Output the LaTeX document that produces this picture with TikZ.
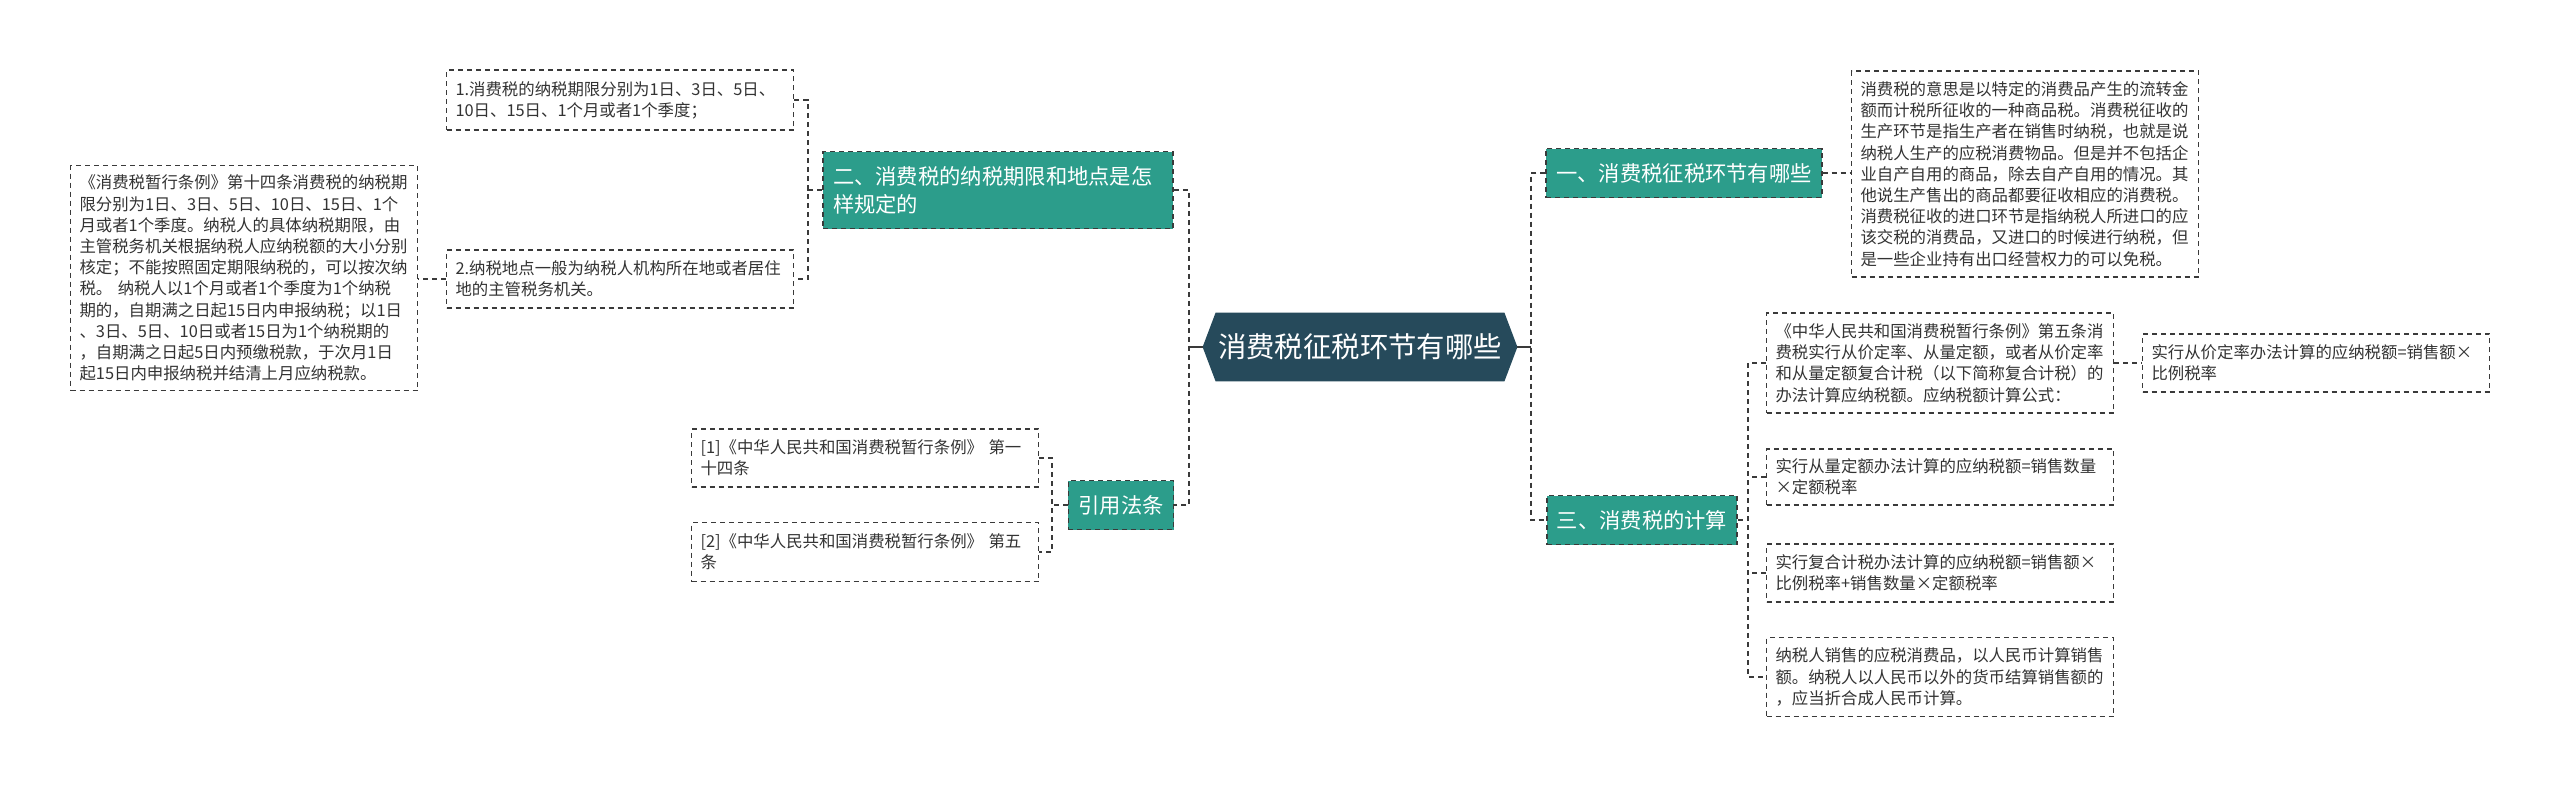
\documentclass[tikz,border=0pt]{standalone}
\usepackage{fontspec}
\setmainfont{Noto Sans CJK SC}
\usepackage{xcolor}
\usepackage{tikz}
\usetikzlibrary{positioning, calc}
\definecolor{slate}{HTML}{264A5B}
\definecolor{jade}{HTML}{2C9D8B}
\definecolor{inkgray}{HTML}{333333}
\definecolor{linegray}{HTML}{3A3A3A}
\pgfdeclarelayer{background}
\pgfsetlayers{background,main}

\begin{document}
\begin{tikzpicture}[
    x=0.5pt, y=-0.5pt,
    % 1. trazo discontinuo comun
    boxdash/.style={dash pattern=on 2.5pt off 2pt},
    % 2. tema central
    root/.style={
        text=white, font=\fontsize{14.2}{17}\selectfont,
        minimum width=157pt, minimum height=34pt, inner sep=0pt
    },
    % 3. ramas verdes
    branch/.style={
        boxdash, draw=linegray, line width=0.8pt, fill=jade,
        text=white, font=\fontsize{10.65}{14}\selectfont,
        inner xsep=5pt, minimum height=24.5pt, align=left
    },
    % 4. hojas con borde discontinuo
    leaf/.style={
        boxdash, draw=linegray, line width=0.75pt,
        text=inkgray, font=\fontsize{8.2}{10.6}\selectfont,
        text width=164.5pt, inner xsep=4.5pt, align=left
    },
    % 5. conectores
    link/.style={boxdash, draw=linegray, line width=1pt},
    rootlink/.style={draw=linegray, line width=1pt}
]
    \useasboundingbox (0,0) rectangle (2560,788);

    % --- CENTRO ---
    \node[root] (root) at (1360, 347) {消费税征税环节有哪些};

    % --- IZQUIERDA ---
    \node[branch, text width=165pt, minimum height=38.5pt] (n2) at (998, 190) {二、消费税的纳税期限和地点是怎\\样规定的};
    \node[branch] (ref) at (1121, 505) {引用法条};

    \node[leaf, minimum height=30pt] (n2a) at (620, 100) {1.消费税的纳税期限分别为1日、3日、5日、\\10日、15日、1个月或者1个季度；};
    \node[leaf, minimum height=29pt] (n2b) at (620, 279) {2.纳税地点一般为纳税人机构所在地或者居住\\地的主管税务机关。};
    \node[leaf, minimum height=112.5pt] (big) at (244, 278) {《消费税暂行条例》第十四条消费税的纳税期\\限分别为1日、3日、5日、10日、15日、1个\\月或者1个季度。纳税人的具体纳税期限，由\\主管税务机关根据纳税人应纳税额的大小分别\\核定；不能按照固定期限纳税的，可以按次纳\\税。 纳税人以1个月或者1个季度为1个纳税\\期的，自期满之日起15日内申报纳税；以1日\\、3日、5日、10日或者15日为1个纳税期的\\，自期满之日起5日内预缴税款，于次月1日\\起15日内申报纳税并结清上月应纳税款。};

    \node[leaf, minimum height=29pt] (ref1) at (865, 458) {[1]《中华人民共和国消费税暂行条例》 第一\\十四条};
    \node[leaf, minimum height=29.5pt] (ref2) at (865, 552) {[2]《中华人民共和国消费税暂行条例》 第五\\条};

    % --- DERECHA ---
    \node[branch] (n1) at (1684, 173) {一、消费税征税环节有哪些};
    \node[branch] (n3) at (1642, 520) {三、消费税的计算};

    \node[leaf, minimum height=103pt] (n1a) at (2025, 174) {消费税的意思是以特定的消费品产生的流转金\\额而计税所征收的一种商品税。消费税征收的\\生产环节是指生产者在销售时纳税，也就是说\\纳税人生产的应税消费物品。但是并不包括企\\业自产自用的商品，除去自产自用的情况。其\\他说生产售出的商品都要征收相应的消费税。\\消费税征收的进口环节是指纳税人所进口的应\\该交税的消费品，又进口的时候进行纳税，但\\是一些企业持有出口经营权力的可以免税。};

    \node[leaf, minimum height=50pt] (n3a) at (1940, 363) {《中华人民共和国消费税暂行条例》第五条消\\费税实行从价定率、从量定额，或者从价定率\\和从量定额复合计税（以下简称复合计税）的\\办法计算应纳税额。应纳税额计算公式：};
    \node[leaf, minimum height=29pt] (n3a1) at (2316, 363) {实行从价定率办法计算的应纳税额=销售额×\\比例税率};
    \node[leaf, minimum height=28pt] (n3b) at (1940, 477) {实行从量定额办法计算的应纳税额=销售数量\\×定额税率};
    \node[leaf, minimum height=29pt] (n3c) at (1940, 573) {实行复合计税办法计算的应纳税额=销售额×\\比例税率+销售数量×定额税率};
    \node[leaf, minimum height=39.5pt] (n3d) at (1940, 677) {纳税人销售的应税消费品，以人民币计算销售\\额。纳税人以人民币以外的货币结算销售额的\\，应当折合成人民币计算。};

    % --- FONDO ---
    \begin{pgfonlayer}{background}
        \fill[white] (0,0) rectangle (2560,788);
        \fill[slate] (root.west) -- ([xshift=6.5pt]root.north west) -- ([xshift=-6.5pt]root.north east)
            -- (root.east) -- ([xshift=-6.5pt]root.south east) -- ([xshift=6.5pt]root.south west) -- cycle;
    \end{pgfonlayer}

    % --- CONECTORES ---
    \coordinate (busL) at (1189, 347);
    \coordinate (busR) at (1531, 347);
    \coordinate (bus2) at (808, 190);
    \coordinate (busRef) at (1052, 505);
    \coordinate (bus3) at (1748, 520);

    \draw[rootlink] (root.west) -- (busL);
    \draw[link] (n2.east) -| (busL) |- (ref.east);
    \draw[rootlink] (root.east) -- (busR);
    \draw[link] (n1.west) -| (busR) |- (n3.west);

    \draw[link] (n2.west) -- (bus2);
    \draw[link] (n2a.east) -| (bus2) |- (n2b.east);
    \draw[link] (n2b.west) -- (n2b.west -| big.east);

    \draw[link] (ref.west) -- (busRef);
    \draw[link] (ref1.east) -| (busRef) |- (ref2.east);

    \draw[link] (n1.east) -- (n1.east -| n1a.west);

    \draw[link] (n3.east) -- (bus3);
    \draw[link] (n3a.west) -| (bus3) |- (n3d.west);
    \draw[link] (n3b.west) -- (n3b.west -| bus3);
    \draw[link] (n3c.west) -- (n3c.west -| bus3);
    \draw[link] (n3a.east) -- (n3a.east -| n3a1.west);

\end{tikzpicture}
\end{document}
